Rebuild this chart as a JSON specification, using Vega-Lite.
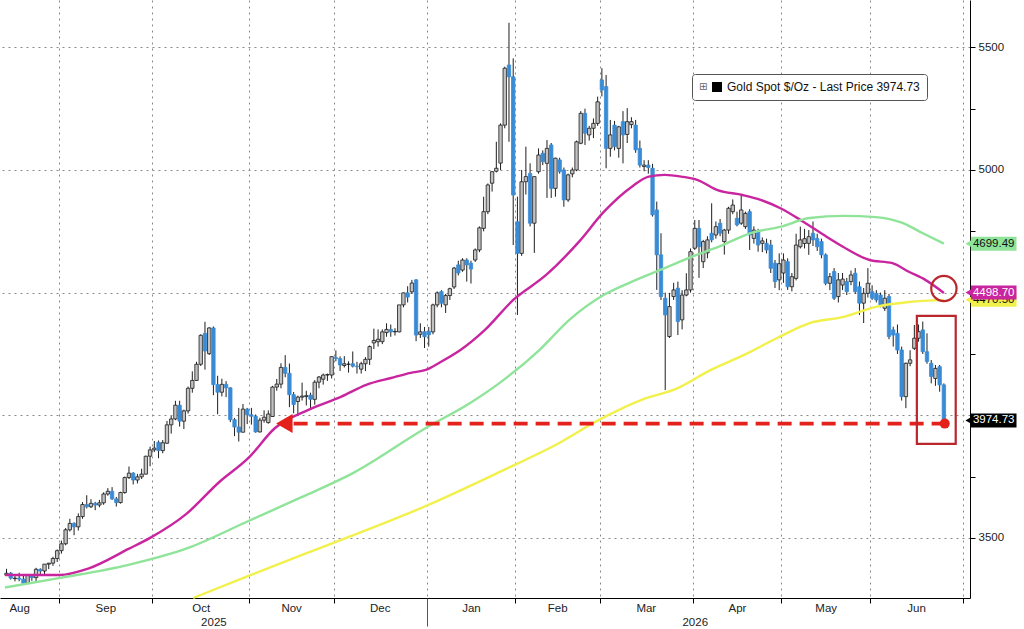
{
  "$schema": "https://vega.github.io/schema/vega-lite/v6.json",
  "description": "Gold spot daily candles with 50/100/200-day moving averages, Aug 2025 - Jun 2026",
  "width": 970,
  "height": 598,
  "autosize": {"type": "none"},
  "padding": {"left": 0, "top": 0, "right": 54, "bottom": 31},
  "background": "#ffffff",
  "datasets": {
    "candles": [
      {"n": -13, "o": 3348, "h": 3374, "l": 3345, "c": 3356},
      {"n": -12, "o": 3356, "h": 3361, "l": 3330, "c": 3336},
      {"n": -11, "o": 3334, "h": 3345, "l": 3323, "c": 3336},
      {"n": -10, "o": 3336, "h": 3358, "l": 3323, "c": 3332},
      {"n": -9, "o": 3332, "h": 3345, "l": 3311, "c": 3315},
      {"n": -8, "o": 3315, "h": 3350, "l": 3312, "c": 3348},
      {"n": -7, "o": 3348, "h": 3351, "l": 3325, "c": 3338},
      {"n": -6, "o": 3338, "h": 3378, "l": 3321, "c": 3372},
      {"n": -5, "o": 3372, "h": 3376, "l": 3352, "c": 3365},
      {"n": -4, "o": 3365, "h": 3393, "l": 3351, "c": 3393},
      {"n": -3, "o": 3393, "h": 3398, "l": 3373, "c": 3397},
      {"n": -2, "o": 3397, "h": 3423, "l": 3386, "c": 3416},
      {"n": -1, "o": 3416, "h": 3453, "l": 3402, "c": 3448},
      {"n": 0, "o": 3448, "h": 3489, "l": 3436, "c": 3476},
      {"n": 1, "o": 3476, "h": 3540, "l": 3470, "c": 3533},
      {"n": 2, "o": 3533, "h": 3578, "l": 3526, "c": 3559},
      {"n": 3, "o": 3559, "h": 3564, "l": 3511, "c": 3545},
      {"n": 4, "o": 3545, "h": 3600, "l": 3530, "c": 3587},
      {"n": 5, "o": 3587, "h": 3646, "l": 3578, "c": 3636},
      {"n": 6, "o": 3636, "h": 3674, "l": 3620, "c": 3627},
      {"n": 7, "o": 3627, "h": 3658, "l": 3622, "c": 3641},
      {"n": 8, "o": 3641, "h": 3647, "l": 3613, "c": 3634},
      {"n": 9, "o": 3634, "h": 3655, "l": 3625, "c": 3643},
      {"n": 10, "o": 3643, "h": 3686, "l": 3635, "c": 3679},
      {"n": 11, "o": 3679, "h": 3703, "l": 3672, "c": 3690},
      {"n": 12, "o": 3690, "h": 3707, "l": 3655, "c": 3659},
      {"n": 13, "o": 3659, "h": 3667, "l": 3628, "c": 3644},
      {"n": 14, "o": 3644, "h": 3688, "l": 3640, "c": 3685},
      {"n": 15, "o": 3685, "h": 3750, "l": 3680, "c": 3746},
      {"n": 16, "o": 3746, "h": 3791, "l": 3740, "c": 3764},
      {"n": 17, "o": 3764, "h": 3768, "l": 3718, "c": 3736},
      {"n": 18, "o": 3736, "h": 3761, "l": 3722, "c": 3749},
      {"n": 19, "o": 3749, "h": 3782, "l": 3740, "c": 3760},
      {"n": 20, "o": 3760, "h": 3835, "l": 3759, "c": 3833},
      {"n": 21, "o": 3833, "h": 3872, "l": 3792, "c": 3859},
      {"n": 22, "o": 3859, "h": 3895, "l": 3850, "c": 3866},
      {"n": 23, "o": 3890, "h": 3897, "l": 3825, "c": 3856},
      {"n": 24, "o": 3856, "h": 3899, "l": 3845, "c": 3888},
      {"n": 25, "o": 3886, "h": 3977, "l": 3884, "c": 3961},
      {"n": 26, "o": 3961, "h": 3997, "l": 3925, "c": 3985},
      {"n": 27, "o": 3985, "h": 4059, "l": 3980, "c": 4041},
      {"n": 28, "o": 4041, "h": 4059, "l": 3954, "c": 3976},
      {"n": 29, "o": 3976, "h": 4023, "l": 3944, "c": 4018},
      {"n": 30, "o": 4018, "h": 4117, "l": 4007, "c": 4110},
      {"n": 31, "o": 4110, "h": 4179, "l": 4092, "c": 4142},
      {"n": 32, "o": 4142, "h": 4218, "l": 4140, "c": 4208},
      {"n": 33, "o": 4208, "h": 4330, "l": 4201, "c": 4326},
      {"n": 34, "o": 4334, "h": 4381, "l": 4186, "c": 4262},
      {"n": 35, "o": 4251, "h": 4359, "l": 4246, "c": 4356},
      {"n": 36, "o": 4356, "h": 4362, "l": 4082, "c": 4125},
      {"n": 37, "o": 4125, "h": 4161, "l": 4004, "c": 4094},
      {"n": 38, "o": 4094, "h": 4149, "l": 4077, "c": 4126},
      {"n": 39, "o": 4126, "h": 4139, "l": 4074, "c": 4112},
      {"n": 40, "o": 4112, "h": 4114, "l": 3972, "c": 3982},
      {"n": 41, "o": 3982, "h": 3989, "l": 3915, "c": 3952},
      {"n": 42, "o": 3952, "h": 4030, "l": 3893, "c": 3931},
      {"n": 43, "o": 3931, "h": 4046, "l": 3930, "c": 4025},
      {"n": 44, "o": 4025, "h": 4030, "l": 3964, "c": 4002},
      {"n": 45, "o": 4002, "h": 4030, "l": 3962, "c": 3996},
      {"n": 46, "o": 3996, "h": 4003, "l": 3929, "c": 3932},
      {"n": 47, "o": 3932, "h": 3990, "l": 3930, "c": 3980},
      {"n": 48, "o": 3980, "h": 4020, "l": 3970, "c": 3992},
      {"n": 49, "o": 3970, "h": 4020, "l": 3966, "c": 4005},
      {"n": 50, "o": 3995, "h": 4120, "l": 3993, "c": 4115},
      {"n": 51, "o": 4115, "h": 4148, "l": 4100, "c": 4127},
      {"n": 52, "o": 4127, "h": 4212, "l": 4110, "c": 4195},
      {"n": 53, "o": 4195, "h": 4245, "l": 4155, "c": 4171},
      {"n": 54, "o": 4171, "h": 4211, "l": 4033, "c": 4084},
      {"n": 55, "o": 4084, "h": 4095, "l": 4008, "c": 4044},
      {"n": 56, "o": 4056, "h": 4080, "l": 3997, "c": 4074},
      {"n": 57, "o": 4074, "h": 4133, "l": 4060, "c": 4078},
      {"n": 58, "o": 4076, "h": 4100, "l": 4040, "c": 4080},
      {"n": 59, "o": 4082, "h": 4092, "l": 4022, "c": 4065},
      {"n": 60, "o": 4065, "h": 4143, "l": 4043, "c": 4135},
      {"n": 61, "o": 4135, "h": 4160, "l": 4110, "c": 4156},
      {"n": 62, "o": 4147, "h": 4170, "l": 4125, "c": 4164},
      {"n": 63, "o": 4164, "h": 4170, "l": 4140, "c": 4166},
      {"n": 64, "o": 4164, "h": 4240, "l": 4150, "c": 4239},
      {"n": 65, "o": 4235, "h": 4264, "l": 4220, "c": 4231},
      {"n": 66, "o": 4231, "h": 4240, "l": 4181, "c": 4205},
      {"n": 67, "o": 4203, "h": 4241, "l": 4195, "c": 4210},
      {"n": 68, "o": 4208, "h": 4220, "l": 4174, "c": 4208},
      {"n": 69, "o": 4210, "h": 4260, "l": 4195, "c": 4200},
      {"n": 70, "o": 4200, "h": 4218, "l": 4170, "c": 4198},
      {"n": 71, "o": 4188, "h": 4218, "l": 4170, "c": 4210},
      {"n": 72, "o": 4210, "h": 4237, "l": 4180, "c": 4228},
      {"n": 73, "o": 4228, "h": 4285, "l": 4205, "c": 4280},
      {"n": 74, "o": 4295, "h": 4353, "l": 4270, "c": 4305},
      {"n": 75, "o": 4300, "h": 4350, "l": 4280, "c": 4310},
      {"n": 76, "o": 4300, "h": 4350, "l": 4290, "c": 4340},
      {"n": 77, "o": 4337, "h": 4375, "l": 4320, "c": 4350},
      {"n": 78, "o": 4350, "h": 4370, "l": 4320, "c": 4340},
      {"n": 79, "o": 4340, "h": 4355, "l": 4325, "c": 4342},
      {"n": 80, "o": 4340, "h": 4448, "l": 4338, "c": 4450},
      {"n": 81, "o": 4450, "h": 4500, "l": 4440, "c": 4499},
      {"n": 82, "o": 4499, "h": 4526, "l": 4460, "c": 4482},
      {"n": 83, "o": 4503, "h": 4552, "l": 4495, "c": 4539},
      {"n": 84, "o": 4552, "h": 4555, "l": 4302, "c": 4327},
      {"n": 85, "o": 4330, "h": 4375, "l": 4315, "c": 4340},
      {"n": 86, "o": 4341, "h": 4360, "l": 4274, "c": 4320},
      {"n": 87, "o": 4342, "h": 4360, "l": 4280, "c": 4328},
      {"n": 88, "o": 4340, "h": 4455, "l": 4330, "c": 4450},
      {"n": 89, "o": 4450, "h": 4505, "l": 4440, "c": 4499},
      {"n": 90, "o": 4504, "h": 4510, "l": 4440, "c": 4457},
      {"n": 91, "o": 4450, "h": 4495, "l": 4417, "c": 4488},
      {"n": 92, "o": 4488, "h": 4520, "l": 4470, "c": 4516},
      {"n": 93, "o": 4523, "h": 4605, "l": 4515, "c": 4600},
      {"n": 94, "o": 4613, "h": 4630, "l": 4570, "c": 4580},
      {"n": 95, "o": 4592, "h": 4640, "l": 4585, "c": 4633},
      {"n": 96, "o": 4633, "h": 4640, "l": 4545, "c": 4613},
      {"n": 97, "o": 4620, "h": 4630, "l": 4537, "c": 4596},
      {"n": 98, "o": 4633, "h": 4680, "l": 4625, "c": 4674},
      {"n": 99, "o": 4674, "h": 4770, "l": 4665, "c": 4764},
      {"n": 100, "o": 4762, "h": 4891, "l": 4750, "c": 4830},
      {"n": 101, "o": 4830, "h": 4945, "l": 4820, "c": 4939},
      {"n": 102, "o": 4946, "h": 4995, "l": 4912, "c": 4993},
      {"n": 103, "o": 4995, "h": 5115, "l": 4990, "c": 5007},
      {"n": 104, "o": 5028, "h": 5190, "l": 5000, "c": 5183},
      {"n": 105, "o": 5183, "h": 5421, "l": 5170, "c": 5415},
      {"n": 106, "o": 5428, "h": 5600, "l": 5115, "c": 5380},
      {"n": 107, "o": 5380, "h": 5455, "l": 4694, "c": 4898},
      {"n": 108, "o": 4789, "h": 4891, "l": 4409, "c": 4660},
      {"n": 109, "o": 4660, "h": 5000, "l": 4650, "c": 4952},
      {"n": 110, "o": 4952, "h": 5095, "l": 4900, "c": 4973},
      {"n": 111, "o": 4986, "h": 5027, "l": 4770, "c": 4783},
      {"n": 112, "o": 4783, "h": 4973, "l": 4662, "c": 4973},
      {"n": 113, "o": 4993, "h": 5088, "l": 4985, "c": 5061},
      {"n": 114, "o": 5068, "h": 5080, "l": 5020, "c": 5034},
      {"n": 115, "o": 5027, "h": 5122, "l": 4886, "c": 5088},
      {"n": 116, "o": 5102, "h": 5110, "l": 4886, "c": 4925},
      {"n": 117, "o": 4925, "h": 5050, "l": 4891, "c": 5048},
      {"n": 118, "o": 5041, "h": 5050, "l": 4985, "c": 4993},
      {"n": 119, "o": 5000, "h": 5010, "l": 4850, "c": 4878},
      {"n": 120, "o": 4878, "h": 4985, "l": 4870, "c": 4980},
      {"n": 121, "o": 4984, "h": 5010, "l": 4970, "c": 5000},
      {"n": 122, "o": 5000, "h": 5120, "l": 4995, "c": 5115},
      {"n": 123, "o": 5109, "h": 5240, "l": 5105, "c": 5231},
      {"n": 124, "o": 5231, "h": 5250, "l": 5102, "c": 5150},
      {"n": 125, "o": 5143, "h": 5180, "l": 5120, "c": 5170},
      {"n": 126, "o": 5170, "h": 5210, "l": 5130, "c": 5190},
      {"n": 127, "o": 5190, "h": 5299, "l": 5180, "c": 5278},
      {"n": 128, "o": 5367, "h": 5415, "l": 5300, "c": 5326},
      {"n": 129, "o": 5340, "h": 5387, "l": 5007, "c": 5088},
      {"n": 130, "o": 5088, "h": 5204, "l": 5054, "c": 5143},
      {"n": 131, "o": 5183, "h": 5200, "l": 5080, "c": 5095},
      {"n": 132, "o": 5088, "h": 5180, "l": 5050, "c": 5176},
      {"n": 133, "o": 5197, "h": 5240, "l": 5027, "c": 5143},
      {"n": 134, "o": 5145, "h": 5252, "l": 5110, "c": 5197},
      {"n": 135, "o": 5185, "h": 5215, "l": 5170, "c": 5197},
      {"n": 136, "o": 5183, "h": 5204, "l": 5070, "c": 5082},
      {"n": 137, "o": 5088, "h": 5120, "l": 5010, "c": 5020},
      {"n": 138, "o": 5014, "h": 5040, "l": 4995, "c": 5020},
      {"n": 139, "o": 5020, "h": 5040, "l": 4985, "c": 5010},
      {"n": 140, "o": 5007, "h": 5025, "l": 4810, "c": 4817},
      {"n": 141, "o": 4837, "h": 4871, "l": 4511, "c": 4654},
      {"n": 142, "o": 4654, "h": 4742, "l": 4470, "c": 4484},
      {"n": 143, "o": 4477, "h": 4500, "l": 4103, "c": 4409},
      {"n": 144, "o": 4321, "h": 4499, "l": 4315, "c": 4443},
      {"n": 145, "o": 4484, "h": 4540, "l": 4470, "c": 4511},
      {"n": 146, "o": 4518, "h": 4545, "l": 4327, "c": 4382},
      {"n": 147, "o": 4389, "h": 4510, "l": 4350, "c": 4490},
      {"n": 148, "o": 4490, "h": 4579, "l": 4485, "c": 4511},
      {"n": 149, "o": 4511, "h": 4680, "l": 4500, "c": 4667},
      {"n": 150, "o": 4681, "h": 4796, "l": 4674, "c": 4762},
      {"n": 151, "o": 4762, "h": 4796, "l": 4560, "c": 4687},
      {"n": 152, "o": 4626, "h": 4715, "l": 4600, "c": 4708},
      {"n": 153, "o": 4662, "h": 4730, "l": 4640, "c": 4715},
      {"n": 154, "o": 4742, "h": 4864, "l": 4705, "c": 4715},
      {"n": 155, "o": 4735, "h": 4790, "l": 4720, "c": 4769},
      {"n": 156, "o": 4783, "h": 4800, "l": 4730, "c": 4742},
      {"n": 157, "o": 4708, "h": 4760, "l": 4655, "c": 4755},
      {"n": 158, "o": 4755, "h": 4850, "l": 4740, "c": 4844},
      {"n": 159, "o": 4830, "h": 4880, "l": 4820, "c": 4857},
      {"n": 160, "o": 4803, "h": 4830, "l": 4770, "c": 4776},
      {"n": 161, "o": 4783, "h": 4898, "l": 4776, "c": 4837},
      {"n": 162, "o": 4769, "h": 4830, "l": 4760, "c": 4823},
      {"n": 163, "o": 4830, "h": 4840, "l": 4674, "c": 4735},
      {"n": 164, "o": 4721, "h": 4770, "l": 4700, "c": 4755},
      {"n": 165, "o": 4749, "h": 4760, "l": 4667, "c": 4694},
      {"n": 166, "o": 4701, "h": 4725, "l": 4665, "c": 4711},
      {"n": 167, "o": 4701, "h": 4720, "l": 4660, "c": 4674},
      {"n": 168, "o": 4694, "h": 4715, "l": 4580, "c": 4599},
      {"n": 169, "o": 4620, "h": 4633, "l": 4519, "c": 4545},
      {"n": 170, "o": 4552, "h": 4660, "l": 4510, "c": 4618},
      {"n": 171, "o": 4580, "h": 4660, "l": 4540, "c": 4633},
      {"n": 172, "o": 4626, "h": 4640, "l": 4511, "c": 4524},
      {"n": 173, "o": 4524, "h": 4580, "l": 4505, "c": 4565},
      {"n": 174, "o": 4558, "h": 4740, "l": 4550, "c": 4694},
      {"n": 175, "o": 4687, "h": 4769, "l": 4680, "c": 4715},
      {"n": 176, "o": 4700, "h": 4760, "l": 4680, "c": 4720},
      {"n": 177, "o": 4701, "h": 4755, "l": 4654, "c": 4728},
      {"n": 178, "o": 4742, "h": 4790, "l": 4690, "c": 4715},
      {"n": 179, "o": 4721, "h": 4740, "l": 4670, "c": 4687},
      {"n": 180, "o": 4708, "h": 4720, "l": 4640, "c": 4654},
      {"n": 181, "o": 4654, "h": 4660, "l": 4530, "c": 4538},
      {"n": 182, "o": 4538, "h": 4580, "l": 4510, "c": 4565},
      {"n": 183, "o": 4586, "h": 4600, "l": 4470, "c": 4477},
      {"n": 184, "o": 4484, "h": 4580, "l": 4460, "c": 4552},
      {"n": 185, "o": 4531, "h": 4580, "l": 4510, "c": 4555},
      {"n": 186, "o": 4545, "h": 4560, "l": 4490, "c": 4504},
      {"n": 187, "o": 4545, "h": 4590, "l": 4530, "c": 4572},
      {"n": 188, "o": 4579, "h": 4600, "l": 4495, "c": 4504},
      {"n": 189, "o": 4524, "h": 4545, "l": 4409, "c": 4457},
      {"n": 190, "o": 4457, "h": 4519, "l": 4376, "c": 4497},
      {"n": 191, "o": 4497, "h": 4600, "l": 4480, "c": 4538},
      {"n": 192, "o": 4504, "h": 4530, "l": 4470, "c": 4477},
      {"n": 193, "o": 4497, "h": 4510, "l": 4460, "c": 4470},
      {"n": 194, "o": 4490, "h": 4500, "l": 4440, "c": 4450},
      {"n": 195, "o": 4436, "h": 4510, "l": 4425, "c": 4477},
      {"n": 196, "o": 4484, "h": 4495, "l": 4310, "c": 4321},
      {"n": 197, "o": 4348, "h": 4361, "l": 4280, "c": 4327},
      {"n": 198, "o": 4334, "h": 4370, "l": 4250, "c": 4266},
      {"n": 199, "o": 4266, "h": 4280, "l": 4060, "c": 4076},
      {"n": 200, "o": 4076, "h": 4215, "l": 4029, "c": 4212},
      {"n": 201, "o": 4212, "h": 4265, "l": 4200, "c": 4226},
      {"n": 202, "o": 4273, "h": 4368, "l": 4266, "c": 4314},
      {"n": 203, "o": 4314, "h": 4370, "l": 4300, "c": 4341},
      {"n": 204, "o": 4348, "h": 4382, "l": 4250, "c": 4259},
      {"n": 205, "o": 4259, "h": 4334, "l": 4210, "c": 4219},
      {"n": 206, "o": 4212, "h": 4225, "l": 4130, "c": 4158},
      {"n": 207, "o": 4150, "h": 4205, "l": 4120, "c": 4191},
      {"n": 208, "o": 4198, "h": 4205, "l": 4096, "c": 4124},
      {"n": 209, "o": 4124, "h": 4130, "l": 3965, "c": 3974.73}
    ],
    "ma": [
      {"s": "50d", "n": -13.36, "p": 3349}, {"s": "50d", "n": -0.5, "p": 3349},
      {"s": "50d", "n": 6.5, "p": 3376}, {"s": "50d", "n": 15.9, "p": 3455},
      {"s": "50d", "n": 21, "p": 3500}, {"s": "50d", "n": 29.6, "p": 3598},
      {"s": "50d", "n": 37.4, "p": 3728}, {"s": "50d", "n": 44.3, "p": 3826},
      {"s": "50d", "n": 50.6, "p": 3948}, {"s": "50d", "n": 58.5, "p": 4022},
      {"s": "50d", "n": 66.3, "p": 4076}, {"s": "50d", "n": 72.2, "p": 4124},
      {"s": "50d", "n": 78.1, "p": 4152}, {"s": "50d", "n": 82.7, "p": 4173},
      {"s": "50d", "n": 86.3, "p": 4185}, {"s": "50d", "n": 89.8, "p": 4217},
      {"s": "50d", "n": 94.5, "p": 4266}, {"s": "50d", "n": 100.3, "p": 4348},
      {"s": "50d", "n": 107, "p": 4470}, {"s": "50d", "n": 114.8, "p": 4572},
      {"s": "50d", "n": 122.6, "p": 4708}, {"s": "50d", "n": 128.5, "p": 4830},
      {"s": "50d", "n": 135.1, "p": 4932}, {"s": "50d", "n": 139.1, "p": 4973},
      {"s": "50d", "n": 142.9, "p": 4980}, {"s": "50d", "n": 146.8, "p": 4973},
      {"s": "50d", "n": 150.7, "p": 4959}, {"s": "50d", "n": 155.4, "p": 4918},
      {"s": "50d", "n": 161.3, "p": 4898}, {"s": "50d", "n": 165.6, "p": 4878},
      {"s": "50d", "n": 170.3, "p": 4844}, {"s": "50d", "n": 175.7, "p": 4789},
      {"s": "50d", "n": 181.2, "p": 4728}, {"s": "50d", "n": 185.1, "p": 4687},
      {"s": "50d", "n": 191.4, "p": 4633}, {"s": "50d", "n": 196.8, "p": 4620},
      {"s": "50d", "n": 200.7, "p": 4585}, {"s": "50d", "n": 204.6, "p": 4552},
      {"s": "50d", "n": 209, "p": 4498.7},
      {"s": "100d", "n": -13.36, "p": 3298}, {"s": "100d", "n": -0.6, "p": 3336},
      {"s": "100d", "n": 15.9, "p": 3390}, {"s": "100d", "n": 30, "p": 3459},
      {"s": "100d", "n": 44.3, "p": 3569}, {"s": "100d", "n": 57, "p": 3667},
      {"s": "100d", "n": 68.7, "p": 3761}, {"s": "100d", "n": 86.3, "p": 3948},
      {"s": "100d", "n": 96.8, "p": 4050}, {"s": "100d", "n": 103.8, "p": 4132},
      {"s": "100d", "n": 113.2, "p": 4266}, {"s": "100d", "n": 120.3, "p": 4389},
      {"s": "100d", "n": 128.5, "p": 4491}, {"s": "100d", "n": 135, "p": 4544},
      {"s": "100d", "n": 143, "p": 4601}, {"s": "100d", "n": 149.1, "p": 4645},
      {"s": "100d", "n": 156.6, "p": 4694}, {"s": "100d", "n": 163.2, "p": 4743},
      {"s": "100d", "n": 170.2, "p": 4768}, {"s": "100d", "n": 177.2, "p": 4804},
      {"s": "100d", "n": 185.2, "p": 4813}, {"s": "100d", "n": 192.9, "p": 4808},
      {"s": "100d", "n": 199.2, "p": 4784}, {"s": "100d", "n": 203.9, "p": 4743},
      {"s": "100d", "n": 209, "p": 4699.49},
      {"s": "200d", "n": 31.2, "p": 3255}, {"s": "200d", "n": 44.3, "p": 3345},
      {"s": "200d", "n": 57, "p": 3431}, {"s": "200d", "n": 68.7, "p": 3508},
      {"s": "200d", "n": 86.3, "p": 3630}, {"s": "200d", "n": 103.8, "p": 3769},
      {"s": "200d", "n": 117.9, "p": 3887}, {"s": "200d", "n": 127.3, "p": 3981},
      {"s": "200d", "n": 137.4, "p": 4063}, {"s": "200d", "n": 146, "p": 4111},
      {"s": "200d", "n": 153.8, "p": 4185}, {"s": "200d", "n": 161.7, "p": 4246},
      {"s": "200d", "n": 169.5, "p": 4315}, {"s": "200d", "n": 177.2, "p": 4376},
      {"s": "200d", "n": 185, "p": 4400}, {"s": "200d", "n": 192.9, "p": 4442},
      {"s": "200d", "n": 200.7, "p": 4462}, {"s": "200d", "n": 209, "p": 4470.5}
    ],
    "tags": [
      {"s": "last", "lab": "3974.73", "p": 3979},
      {"s": "100d", "lab": "4699.49", "p": 4699.49},
      {"s": "200d", "lab": "4470.50", "p": 4470.5},
      {"s": "50d", "lab": "4498.70", "p": 4500}
    ]
  },
  "layer": [
    {
      "layer": [
        {
          "data": {"name": "candles"},
          "mark": {"type": "rule", "color": "#1e1e1e", "strokeWidth": 1},
          "encoding": {
            "x": {
              "field": "n",
              "type": "quantitative",
              "scale": {"domain": [-13.36, 214], "nice": false, "zero": false},
              "axis": {
                "title": null,
                "orient": "bottom",
                "values": [-0.5, 21.5, 44.5, 64.5, 86.5, 107.5, 127.5, 149.5, 170.5, 191.5, 213.5, -10, 10.4, 33, 54.4, 75.4, 97, 117.4, 138.4, 160, 181, 202.4],
                "labelExpr": "datum.value == -10 ? 'Aug' : datum.value == 10.4 ? 'Sep' : datum.value == 33 ? 'Oct' : datum.value == 54.4 ? 'Nov' : datum.value == 75.4 ? 'Dec' : datum.value == 97 ? 'Jan' : datum.value == 117.4 ? 'Feb' : datum.value == 138.4 ? 'Mar' : datum.value == 160 ? 'Apr' : datum.value == 181 ? 'May' : datum.value == 202.4 ? 'Jun' : ''",
                "labelOverlap": false,
                "labelBound": false,
                "labelFlush": false,
                "labelFontSize": 11.5,
                "labelColor": "#222222",
                "labelPadding": -1,
                "tickSize": 5,
                "tickColor": "#000000",
                "tickOpacity": {"condition": {"test": "indexof([-0.5, 21.5, 44.5, 64.5, 86.5, 107.5, 127.5, 149.5, 170.5, 191.5, 213.5], datum.value) >= 0", "value": 1}, "value": 0},
                "domainColor": "#000000",
                "grid": true,
                "gridColor": "#8a8a8a",
                "gridDash": [2, 4],
                "gridOpacity": {"condition": {"test": "indexof([-0.5, 21.5, 44.5, 64.5, 86.5, 107.5, 127.5, 149.5, 170.5, 191.5, 213.5], datum.value) >= 0", "value": 1}, "value": 0}
              }
            },
            "y": {
              "field": "l",
              "type": "quantitative",
              "scale": {"domain": [3255, 5693], "nice": false, "zero": false},
              "axis": {
                "title": null,
                "orient": "right",
                "values": [3500, 3750, 4000, 4250, 4500, 4750, 5000, 5250, 5500],
                "format": "d",
                "labelExpr": "indexof([3500, 5000, 5500], datum.value) >= 0 ? datum.label : ''",
                "labelFontSize": 11.5,
                "labelColor": "#222222",
                "labelPadding": 3,
                "tickSize": 5,
                "tickColor": "#000000",
                "domainColor": "#000000",
                "grid": true,
                "gridColor": "#8a8a8a",
                "gridDash": [2, 4],
                "gridOpacity": {"condition": {"test": "datum.value % 500 == 0", "value": 1}, "value": 0}
              }
            },
            "y2": {"field": "h"}
          }
        },
        {
          "data": {"name": "candles"},
          "mark": {"type": "bar", "width": 3.4, "strokeWidth": 0.8},
          "encoding": {
            "x": {"field": "n", "type": "quantitative"},
            "y": {"field": "o", "type": "quantitative"},
            "y2": {"field": "c"},
            "fill": {"condition": {"test": "datum.c >= datum.o", "value": "#c2c2c2"}, "value": "#3a8bd6"},
            "stroke": {"condition": {"test": "datum.c >= datum.o", "value": "#1a1a1a"}, "value": "#3a8bd6"}
          }
        },
        {
          "data": {"name": "ma"},
          "mark": {"type": "line", "interpolate": "monotone", "strokeWidth": 2.4},
          "encoding": {
            "x": {"field": "n", "type": "quantitative"},
            "y": {"field": "p", "type": "quantitative"},
            "color": {
              "field": "s",
              "type": "nominal",
              "scale": {"domain": ["50d", "100d", "200d", "last"], "range": ["#c8259f", "#8fe49a", "#f2f04a", "#000000"]},
              "legend": null
            }
          }
        },
        {
          "data": {"values": [{}]},
          "mark": {"type": "rule", "color": "#e3221b", "strokeWidth": 3.6, "strokeDash": [14, 8]},
          "encoding": {
            "x": {"datum": 55},
            "x2": {"datum": 209},
            "y": {"datum": 3966}
          }
        },
        {
          "data": {"values": [{}]},
          "mark": {"type": "point", "shape": "triangle-left", "size": 360, "filled": true, "color": "#e3221b", "opacity": 1},
          "encoding": {
            "x": {"datum": 52.8},
            "y": {"datum": 3966}
          }
        },
        {
          "data": {"values": [{}]},
          "mark": {"type": "point", "shape": "circle", "size": 100, "filled": true, "color": "#e3221b", "opacity": 1},
          "encoding": {
            "x": {"datum": 209.2},
            "y": {"datum": 3966}
          }
        },
        {
          "data": {"values": [{}]},
          "mark": {"type": "rect", "filled": false, "stroke": "#b9272d", "strokeWidth": 2.2},
          "encoding": {
            "x": {"datum": 202.6},
            "x2": {"datum": 211.8},
            "y": {"datum": 4405},
            "y2": {"datum": 3883}
          }
        },
        {
          "data": {"values": [{}]},
          "mark": {"type": "point", "shape": "circle", "size": 640, "filled": false, "stroke": "#b9272d", "strokeWidth": 2.2, "opacity": 1},
          "encoding": {
            "x": {"datum": 209},
            "y": {"datum": 4517}
          }
        },
        {
          "data": {"name": "tags"},
          "layer": [
            {
              "transform": [{"filter": "datum.s != '50d'"}],
              "mark": {"type": "rect", "height": 14},
              "encoding": {
                "x": {"datum": 215.4},
                "x2": {"datum": 226.2},
                "y": {"field": "p", "type": "quantitative"},
                "color": {"field": "s", "type": "nominal", "legend": null}
              }
            },
            {
              "transform": [{"filter": "datum.s != '50d'"}],
              "mark": {"type": "point", "shape": "triangle-left", "size": 60, "filled": true, "opacity": 1},
              "encoding": {
                "x": {"datum": 214.9},
                "y": {"field": "p", "type": "quantitative"},
                "color": {"field": "s", "type": "nominal", "legend": null}
              }
            },
            {
              "transform": [{"filter": "datum.s != '50d'"}],
              "mark": {"type": "text", "fontSize": 11.5, "align": "center", "baseline": "middle"},
              "encoding": {
                "x": {"datum": 220.8},
                "y": {"field": "p", "type": "quantitative"},
                "text": {"field": "lab"},
                "color": {"condition": {"test": "datum.s == 'last'", "value": "#ffffff"}, "value": "#111111"}
              }
            },
            {
              "transform": [{"filter": "datum.s == '50d'"}],
              "mark": {"type": "rect", "height": 14},
              "encoding": {
                "x": {"datum": 215.4},
                "x2": {"datum": 226.2},
                "y": {"field": "p", "type": "quantitative"},
                "color": {"field": "s", "type": "nominal", "legend": null}
              }
            },
            {
              "transform": [{"filter": "datum.s == '50d'"}],
              "mark": {"type": "point", "shape": "triangle-left", "size": 60, "filled": true, "opacity": 1},
              "encoding": {
                "x": {"datum": 214.9},
                "y": {"field": "p", "type": "quantitative"},
                "color": {"field": "s", "type": "nominal", "legend": null}
              }
            },
            {
              "transform": [{"filter": "datum.s == '50d'"}],
              "mark": {"type": "text", "fontSize": 11.5, "align": "center", "baseline": "middle", "color": "#ffffff"},
              "encoding": {
                "x": {"datum": 220.8},
                "y": {"field": "p", "type": "quantitative"},
                "text": {"field": "lab"}
              }
            }
          ]
        }
      ]
    },
    {
      "data": {"values": [{"s": "Gold Spot $/Oz - Last Price 3974.73"}]},
      "mark": {"type": "square", "size": 0, "opacity": 1},
      "encoding": {
        "x": {
          "datum": 100,
          "type": "quantitative",
          "scale": {"domain": [-13.36, 214], "nice": false, "zero": false},
          "axis": {
            "title": null,
            "orient": "bottom",
            "values": [36, 86.5, 150],
            "labelExpr": "datum.value == 36 ? '2025' : datum.value == 150 ? '2026' : ''",
            "labelOverlap": false,
            "labelFontSize": 11.5,
            "labelColor": "#222222",
            "labelPadding": -10,
            "domain": false,
            "grid": false,
            "tickSize": 28,
            "tickColor": "#555555",
            "tickOpacity": {"condition": {"test": "datum.value == 86.5", "value": 1}, "value": 0}
          }
        },
        "y": {"datum": 4000, "type": "quantitative"},
        "color": {
          "field": "s",
          "type": "nominal",
          "scale": {"range": ["#000000"]},
          "legend": {
            "orient": "none",
            "legendX": 692,
            "legendY": 74,
            "title": "⊞",
            "titleOrient": "left",
            "titleFontSize": 10,
            "titleColor": "#666666",
            "titleFontWeight": "normal",
            "titlePadding": 3,
            "labelFontSize": 12,
            "labelColor": "#111111",
            "labelLimit": 400,
            "symbolType": "square",
            "symbolSize": 100,
            "symbolOpacity": 1,
            "symbolStrokeWidth": 0,
            "padding": 7,
            "strokeColor": "#555555",
            "fillColor": "#ffffff",
            "cornerRadius": 3
          }
        }
      }
    }
  ],
  "resolve": {"axis": {"x": "independent"}, "scale": {"color": "independent"}},
  "config": {
    "view": {"stroke": null},
    "font": "Liberation Sans",
    "axis": {"labelFont": "Liberation Sans"},
    "legend": {"labelFont": "Liberation Sans", "titleFont": "DejaVu Sans"}
  }
}
